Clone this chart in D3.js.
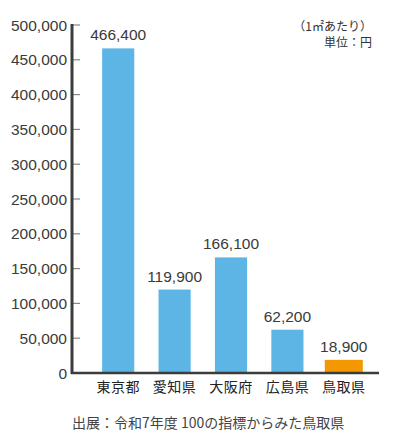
<!DOCTYPE html>
<html>
<head>
<meta charset="utf-8">
<script src="https://cdn.jsdelivr.net/npm/d3@7"></script>
<style>
  body { margin: 0; background: #fff; }
  text { font-family: "Liberation Sans", Arial, sans-serif; }
  .jp { font-family: "Noto Sans CJK JP", sans-serif; }
</style>
</head>
<body>
<svg width="400" height="436"></svg>
<script>
// data
const prefectures = ["東京都", "愛知県", "大阪府", "広島県", "鳥取県"];
const prices = [466400, 119900, 166100, 62200, 18900];
const highlight = "鳥取県";
const yTicks = [0, 50000, 100000, 150000, 200000, 250000, 300000, 350000, 400000, 450000, 500000];

const svg = d3.select("svg");

const x = d3.scaleBand()
    .domain(prefectures)
    .range([90, 372])
    .paddingInner(0.43)
    .paddingOuter(0.215);

const y = d3.scaleLinear()
    .domain([0, 500000])
    .range([373, 25]);

const fmt = d3.format(",");

// y tick marks + labels
const yAxis = svg.append("g");
yAxis.selectAll("line")
    .data(yTicks)
    .enter().append("line")
    .attr("x1", 72).attr("x2", 80)
    .attr("y1", d => y(d)).attr("y2", d => y(d))
    .style("stroke", "#888")
    .style("stroke-width", 1.2);
yAxis.selectAll("text")
    .data(yTicks)
    .enter().append("text")
    .attr("x", 67)
    .attr("y", d => y(d))
    .attr("dy", "0.36em")
    .attr("text-anchor", "end")
    .style("font-size", "15.5px")
    .style("fill", "#3a3a3a")
    .text(d => fmt(d));

// bars
const data = prefectures.map((p, i) => ({ name: p, value: prices[i] }));
const wide = 38;
svg.append("g")
    .selectAll("rect")
    .data(data)
    .enter().append("rect")
    .attr("x", d => d.name === highlight ? x(d.name) + x.bandwidth() / 2 - wide / 2 : x(d.name))
    .attr("width", d => d.name === highlight ? wide : x.bandwidth())
    .attr("y", d => y(d.value))
    .attr("height", d => y(0) - y(d.value))
    .style("fill", d => d.name === highlight ? "#f39800" : "#5db5e6");

// value labels
svg.append("g")
    .selectAll("text")
    .data(data)
    .enter().append("text")
    .attr("x", d => x(d.name) + x.bandwidth() / 2)
    .attr("y", d => y(d.value) - 8)
    .attr("text-anchor", "middle")
    .style("font-size", "15.5px")
    .style("fill", "#3a3a3a")
    .text(d => fmt(d.value));

// axis lines
svg.append("line")
    .attr("x1", 72).attr("x2", 72)
    .attr("y1", y(500000) - 1).attr("y2", y(0) + 1)
    .style("stroke", "#3c3c3c").style("stroke-width", 3);
svg.append("line")
    .attr("x1", 71).attr("x2", 379)
    .attr("y1", y(0)).attr("y2", y(0))
    .style("stroke", "#3c3c3c").style("stroke-width", 2.5);

// category labels
svg.append("g")
    .selectAll("text")
    .data(prefectures)
    .enter().append("text")
    .attr("class", "jp")
    .attr("x", d => x(d) + x.bandwidth() / 2)
    .attr("y", 387)
    .attr("dy", "0.36em")
    .attr("text-anchor", "middle")
    .style("font-size", "14px")
    .style("letter-spacing", "0.5px")
    .style("fill", "#222")
    .text(d => d);

// unit note
svg.append("text")
    .attr("class", "jp")
    .attr("x", 372).attr("y", 27).attr("dy", "0.36em")
    .attr("text-anchor", "end")
    .style("font-size", "12px").style("fill", "#333")
    .text("（1㎡あたり）");
svg.append("text")
    .attr("class", "jp")
    .attr("x", 372).attr("y", 43).attr("dy", "0.36em")
    .attr("text-anchor", "end")
    .style("font-size", "12px").style("fill", "#333")
    .text("単位：円");

// source
svg.append("text")
    .attr("class", "jp")
    .attr("x", 72).attr("y", 423).attr("dy", "0.36em")
    .style("font-size", "14px").style("fill", "#444")
    .text("出展：令和7年度 100の指標からみた鳥取県");
</script>
</body>
</html>
